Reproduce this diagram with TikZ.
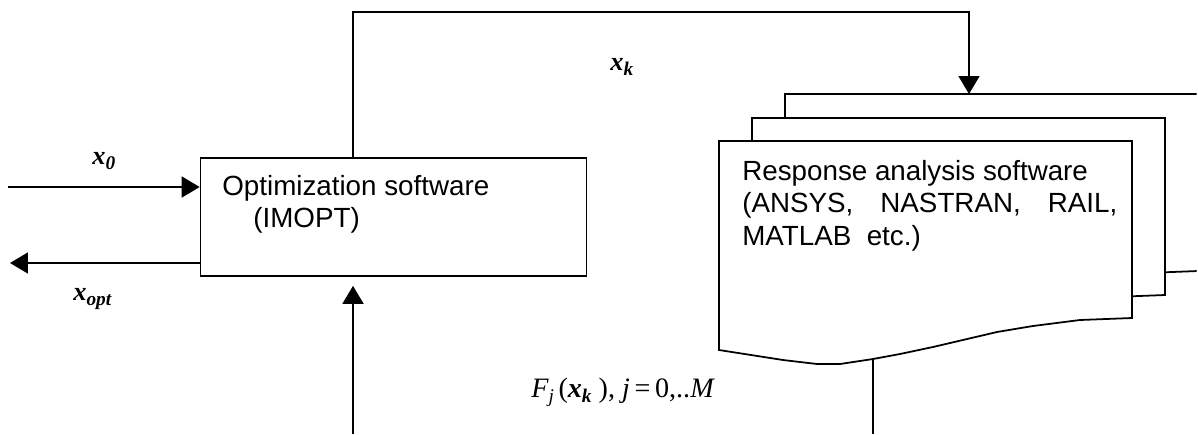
\documentclass[tikz,border=0pt]{standalone}
\usepackage{fontspec}
\setmainfont{Liberation Sans}
\newfontfamily\timesfont{Liberation Serif}
\usetikzlibrary{arrows.meta}

\tikzstyle{page} = [draw, fill=white, line width=1pt]
\tikzstyle{arr} = [-{Triangle[length=0.36cm,width=0.42cm]}, line width=1pt]
\tikzstyle{lbl} = [inner sep=0pt, font=\timesfont\fontsize{15}{18}\selectfont]
\tikzstyle{txt} = [inner sep=0pt, align=left, font=\fontsize{15.8}{18.4}\selectfont]

\newcommand{\lowsub}[1]{\raisebox{-0.45ex}{\fontsize{11}{12}\selectfont #1}}
\newcommand{\bivar}[1]{{\bfseries\itshape #1}}
% one sheet of the stacked document symbol
\newcommand{\docpage}[2]{\draw[page, shift={(#1,#2)}] (0,0) -- (413,0) -- (413,177)
    -- (361,179) -- (314,185) -- (278,191) -- (214,206) -- (181,213) -- (154,218)
    -- (121,223) -- (98,223) -- (64,219) -- (0,209) -- cycle;}

\begin{document}
\begin{tikzpicture}[x=0.02cm, y=-0.02cm]
    \useasboundingbox (0,0) rectangle (1198,434);
    \clip (0,0) rectangle (1196.5,434);
    % response analysis pages
    \docpage{785}{94}
    \docpage{752}{118}
    \docpage{719}{141}
    \node[txt, anchor=north west] (resp) at (742,160)
        {Response analysis software\\ \makebox[7.5cm][s]{(ANSYS, NASTRAN, RAIL,}\\ MATLAB\ \ etc.)};
    % optimization box
    \node[draw, line width=1pt,
        minimum width=7.72cm,
        minimum height=2.36cm, inner sep=0pt] (opt) at (393.5,217) {};
    \node[txt, anchor=north west] (optname) at (222,175)
        {Optimization software\\ \hspace*{0.62cm}(IMOPT)};
    % points of the connectors
    \coordinate (loopx) at (353,0);
    \coordinate (ktop) at (969,12);
    \coordinate (docin) at (969,94);
    \coordinate (docout) at (873,359);
    \coordinate (fbot) at (873,434);
    \coordinate (fret) at (353,434);
    \coordinate (xin) at (8,187);
    \coordinate (xout) at (10,263);
    % Draw edges
    \draw[arr] (xin) -- (xin -| opt.west);
    \draw[arr] (xout -| opt.west) -- (xout);
    \draw[arr] (opt.north -| loopx) |- (ktop) -- (docin);
    \draw[arr, shorten >=0.18cm] (fret) -- (opt.south -| loopx);
    \draw[line width=1pt] (docout) -- (fbot);
    % labels
    \node[lbl, anchor=base west] (x0) at (92,164) {\bivar{x}\lowsub{\bivar{0}}};
    \node[lbl, anchor=base west] (xopt) at (73,300) {\bivar{x}\lowsub{\bivar{opt}}};
    \node[lbl, anchor=base west] (xk) at (610,70) {\bivar{x}\lowsub{\bivar{k}}};
    \node[lbl, anchor=base west, font=\timesfont\fontsize{16}{18}\selectfont] (fval) at (531,397)
        {{\itshape F}\lowsub{\itshape j}\,(\bivar{x}\lowsub{\bivar{k}}\ ), {\itshape j}\,=\,0,..{\itshape M}};
\end{tikzpicture}
\end{document}
